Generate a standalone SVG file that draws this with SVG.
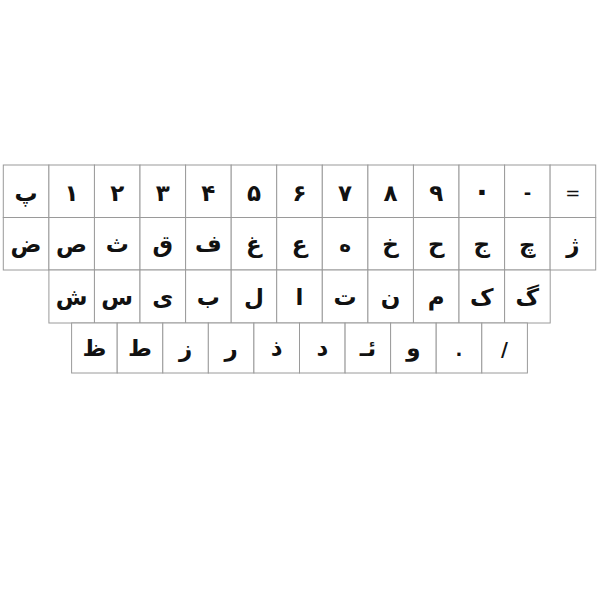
<svg xmlns="http://www.w3.org/2000/svg" width="600" height="600" viewBox="0 0 600 600">
<style>
.k rect{fill:#fff;stroke:#9a9a9a;stroke-width:1}
.k text{font-family:"DejaVu Sans",sans-serif;font-weight:bold;font-size:23px;fill:#111;text-anchor:middle}
</style>
<rect width="600" height="600" fill="#fff"/>
<g id="row1">
<g class="k" id="k-pe"><rect x="3.3" y="165" width="45.6" height="52.5"/><text x="26.1" y="201">پ</text></g>
<g class="k" id="k-1"><rect x="48.9" y="165" width="45.6" height="52.5"/><text x="71.6" y="201">۱</text></g>
<g class="k" id="k-2"><rect x="94.4" y="165" width="45.6" height="52.5"/><text x="117.2" y="201">۲</text></g>
<g class="k" id="k-3"><rect x="140" y="165" width="45.6" height="52.5"/><text x="162.8" y="201">۳</text></g>
<g class="k" id="k-4"><rect x="185.6" y="165" width="45.6" height="52.5"/><text x="208.3" y="201">۴</text></g>
<g class="k" id="k-5"><rect x="231.2" y="165" width="45.6" height="52.5"/><text x="253.9" y="201">۵</text></g>
<g class="k" id="k-6"><rect x="276.7" y="165" width="45.6" height="52.5"/><text x="299.5" y="201">۶</text></g>
<g class="k" id="k-7"><rect x="322.3" y="165" width="45.6" height="52.5"/><text x="345.1" y="201">۷</text></g>
<g class="k" id="k-8"><rect x="367.9" y="165" width="45.6" height="52.5"/><text x="390.6" y="201">۸</text></g>
<g class="k" id="k-9"><rect x="413.4" y="165" width="45.6" height="52.5"/><text x="436.2" y="201">۹</text></g>
<g class="k" id="k-0"><rect x="459" y="165" width="45.6" height="52.5"/><text x="481.8" y="201" style="font-size:30px">۰</text></g>
<g class="k" id="k-minus"><rect x="504.6" y="165" width="45.6" height="52.5"/><text x="527.4" y="199" style="font-size:18px">-</text></g>
<g class="k" id="k-eq"><rect x="550.1" y="165" width="45.6" height="52.5"/><text x="572.9" y="199" style="font-size:18px;font-weight:normal">=</text></g>
</g>
<g id="row2">
<g class="k" id="k-zad"><rect x="3.3" y="217.5" width="45.6" height="52.5"/><text x="26.1" y="252">ض</text></g>
<g class="k" id="k-sad"><rect x="48.9" y="217.5" width="45.6" height="52.5"/><text x="71.6" y="252">ص</text></g>
<g class="k" id="k-se"><rect x="94.4" y="217.5" width="45.6" height="52.5"/><text x="117.2" y="252">ث</text></g>
<g class="k" id="k-ghaf"><rect x="140" y="217.5" width="45.6" height="52.5"/><text x="162.8" y="252">ق</text></g>
<g class="k" id="k-fe"><rect x="185.6" y="217.5" width="45.6" height="52.5"/><text x="208.3" y="252">ف</text></g>
<g class="k" id="k-ghein"><rect x="231.2" y="217.5" width="45.6" height="52.5"/><text x="253.9" y="252">غ</text></g>
<g class="k" id="k-ein"><rect x="276.7" y="217.5" width="45.6" height="52.5"/><text x="299.5" y="252">ع</text></g>
<g class="k" id="k-he"><rect x="322.3" y="217.5" width="45.6" height="52.5"/><text x="345.1" y="252" style="font-size:20px">ه</text></g>
<g class="k" id="k-khe"><rect x="367.9" y="217.5" width="45.6" height="52.5"/><text x="390.6" y="252">خ</text></g>
<g class="k" id="k-hhe"><rect x="413.4" y="217.5" width="45.6" height="52.5"/><text x="436.2" y="252">ح</text></g>
<g class="k" id="k-jim"><rect x="459" y="217.5" width="45.6" height="52.5"/><text x="481.8" y="252">ج</text></g>
<g class="k" id="k-che"><rect x="504.6" y="217.5" width="45.6" height="52.5"/><text x="527.4" y="252">چ</text></g>
<g class="k" id="k-zhe"><rect x="550.1" y="217.5" width="45.6" height="52.5"/><text x="572.9" y="252">ژ</text></g>
</g>
<g id="row3">
<g class="k" id="k-shin"><rect x="48.9" y="270" width="45.6" height="53"/><text x="71.6" y="305">ش</text></g>
<g class="k" id="k-sin"><rect x="94.4" y="270" width="45.6" height="53"/><text x="117.2" y="305">س</text></g>
<g class="k" id="k-ye"><rect x="140" y="270" width="45.6" height="53"/><text x="162.8" y="305">ی</text></g>
<g class="k" id="k-be"><rect x="185.6" y="270" width="45.6" height="53"/><text x="208.3" y="305">ب</text></g>
<g class="k" id="k-lam"><rect x="231.2" y="270" width="45.6" height="53"/><text x="253.9" y="305">ل</text></g>
<g class="k" id="k-alef"><rect x="276.7" y="270" width="45.6" height="53"/><text x="299.5" y="305">ا</text></g>
<g class="k" id="k-te"><rect x="322.3" y="270" width="45.6" height="53"/><text x="345.1" y="305">ت</text></g>
<g class="k" id="k-nun"><rect x="367.9" y="270" width="45.6" height="53"/><text x="390.6" y="305">ن</text></g>
<g class="k" id="k-mim"><rect x="413.4" y="270" width="45.6" height="53"/><text x="436.2" y="305">م</text></g>
<g class="k" id="k-kaf"><rect x="459" y="270" width="45.6" height="53"/><text x="481.8" y="305">ک</text></g>
<g class="k" id="k-gaf"><rect x="504.6" y="270" width="45.6" height="53"/><text x="527.4" y="305">گ</text></g>
</g>
<g id="row4">
<g class="k" id="k-za"><rect x="71.6" y="323" width="45.6" height="50"/><text x="94.4" y="356">ظ</text></g>
<g class="k" id="k-ta"><rect x="117.2" y="323" width="45.6" height="50"/><text x="140" y="356">ط</text></g>
<g class="k" id="k-ze"><rect x="162.8" y="323" width="45.6" height="50"/><text x="185.6" y="356">ز</text></g>
<g class="k" id="k-re"><rect x="208.3" y="323" width="45.6" height="50"/><text x="231.2" y="356">ر</text></g>
<g class="k" id="k-zal"><rect x="253.9" y="323" width="45.6" height="50"/><text x="276.7" y="356">ذ</text></g>
<g class="k" id="k-dal"><rect x="299.5" y="323" width="45.6" height="50"/><text x="322.3" y="356">د</text></g>
<g class="k" id="k-hamze"><rect x="345.1" y="323" width="45.6" height="50"/><text x="367.9" y="356">ئـ</text></g>
<g class="k" id="k-vav"><rect x="390.6" y="323" width="45.6" height="50"/><text x="413.4" y="356">و</text></g>
<g class="k" id="k-dot"><rect x="436.2" y="323" width="45.6" height="50"/><text x="459" y="356" style="font-size:18px">.</text></g>
<g class="k" id="k-slash"><rect x="481.8" y="323" width="45.6" height="50"/><text x="504.6" y="356" style="font-size:19px">/</text></g>
</g>
</svg>
